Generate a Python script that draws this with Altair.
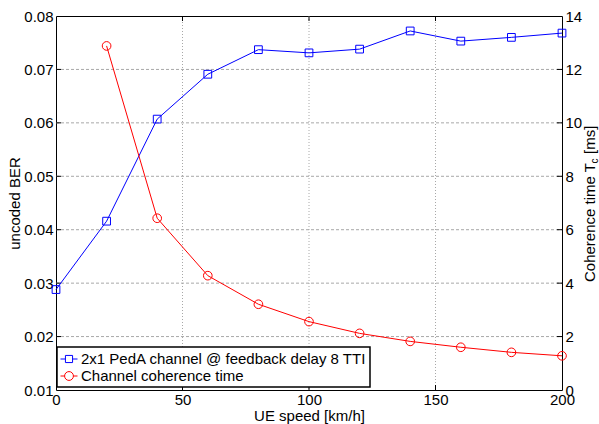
import altair as alt
import pandas as pd

# ---- data ----
speed = [0, 20, 40, 60, 80, 100, 120, 140, 160, 180, 200]
ber = [0.0288, 0.0416, 0.0607, 0.0691, 0.0737, 0.0731, 0.0738, 0.0772, 0.0753, 0.0760, 0.0768]
coh_speed = [20, 40, 60, 80, 100, 120, 140, 160, 180, 200]
coh = [12.88, 6.43, 4.28, 3.21, 2.56, 2.12, 1.82, 1.60, 1.41, 1.28]
series = ["2x1 PedA channel @ feedback delay 8 TTI", "Channel coherence time"]
x_ticks = [0, 50, 100, 150, 200]
ber_ticks = [0.01, 0.02, 0.03, 0.04, 0.05, 0.06, 0.07, 0.08]
coh_ticks = [0, 2, 4, 6, 8, 10, 12, 14]

W, H = 506, 374
FONT = "Liberation Sans"
BLUE = "#0000ff"
RED = "#ff0000"
GRID = "#a8a8a8"

ber_df = pd.DataFrame({"speed": speed, "ber": ber})
coh_df = pd.DataFrame({"speed": coh_speed, "coh": coh})
xin_df = pd.DataFrame({"speed": x_ticks[1:-1]})
berin_df = pd.DataFrame({"ber": ber_ticks[1:-1]})
cohin_df = pd.DataFrame({"coh": coh_ticks[1:-1]})
legend_df = pd.DataFrame({"series": pd.Series([], dtype=str)})

x_scale = alt.Scale(domain=[0, 200], nice=False, zero=False)
ber_scale = alt.Scale(domain=[0.01, 0.08], nice=False, zero=False)
coh_scale = alt.Scale(domain=[0, 14], nice=False, zero=False)

x_axis = alt.Axis(values=x_ticks, title="UE speed [km/h]", format="d",
                  labelFlush=False, labelOverlap=False, labelPadding=2, titlePadding=1)
ber_axis = alt.Axis(values=ber_ticks, title="uncoded BER", format=".2f",
                    labelOverlap=False, labelPadding=3, titlePadding=1)
coh_axis = alt.Axis(values=coh_ticks, title=None, orient="right", format="d",
                    labelOverlap=False, labelPadding=3)

X = alt.X("speed:Q", scale=x_scale, axis=x_axis)
Yb = alt.Y("ber:Q", scale=ber_scale, axis=ber_axis)
Yc = alt.Y("coh:Q", scale=coh_scale, axis=coh_axis)

# grid
grid_v = alt.Chart(xin_df).mark_rule(color=GRID, strokeWidth=1, strokeDash=[1, 2]).encode(
    x=X, y=alt.value(0), y2=alt.value(H))
grid_h = alt.Chart(berin_df).mark_rule(color=GRID, strokeWidth=1, strokeDash=[3, 2]).encode(
    y=Yb, x=alt.value(0), x2=alt.value(W))

# inward ticks
tick_bottom = alt.Chart(xin_df).mark_rule(color="black").encode(
    x=X, y=alt.value(H - 5), y2=alt.value(H))
tick_top = alt.Chart(xin_df).mark_rule(color="black").encode(
    x=X, y=alt.value(0), y2=alt.value(5))
tick_left = alt.Chart(berin_df).mark_rule(color="black").encode(
    y=Yb, x=alt.value(0), x2=alt.value(5))
tick_right = alt.Chart(cohin_df).mark_rule(color="black").encode(
    y=Yc, x=alt.value(W - 5), x2=alt.value(W))

blue_line = alt.Chart(ber_df).mark_line(color=BLUE, strokeWidth=1).encode(x=X, y=Yb)
blue_pts = alt.Chart(ber_df).mark_point(shape="square", color=BLUE, filled=False,
                                        size=60, strokeWidth=1, opacity=1).encode(x=X, y=Yb)

red_line = alt.Chart(coh_df).mark_line(color=RED, strokeWidth=1).encode(x=X, y=Yc)
red_pts = alt.Chart(coh_df).mark_point(shape="circle", color=RED, filled=False,
                                       size=75, strokeWidth=1, opacity=1).encode(x=X, y=Yc)

# right-axis title with subscript
one = alt.Data(values=[{}])
t1 = alt.Chart(one).mark_text(text="Coherence time T", angle=270, align="left",
                              baseline="alphabetic", font=FONT, fontSize=15, color="black").encode(
    x=alt.value(W + 33), y=alt.value(266))
t2 = alt.Chart(one).mark_text(text="c", angle=270, align="left",
                              baseline="alphabetic", font=FONT, fontSize=10, color="black").encode(
    x=alt.value(W + 36), y=alt.value(147.5))
t3 = alt.Chart(one).mark_text(text="[ms]", angle=270, align="left",
                              baseline="alphabetic", font=FONT, fontSize=15, color="black").encode(
    x=alt.value(W + 33), y=alt.value(138))

# legend
SQ = "M-1,0H-0.42M0.42,0H1M-0.42,-0.42H0.42V0.42H-0.42Z"
CI = "M-1,0H-0.52M0.52,0H1M0.52,0A0.52,0.52 0 1,1 -0.52,0A0.52,0.52 0 1,1 0.52,0Z"
leg = alt.Legend(title=None, orient="none", legendX=1, legendY=331, labelLimit=500)
legend_layer = alt.Chart(legend_df).mark_point(filled=False, strokeWidth=1, opacity=1).encode(
    color=alt.Color("series:N", scale=alt.Scale(domain=series, range=[BLUE, RED]), legend=leg),
    shape=alt.Shape("series:N", scale=alt.Scale(domain=series, range=[SQ, CI]), legend=leg),
)

left = alt.layer(grid_v, grid_h, tick_bottom, tick_top, tick_left, blue_line, blue_pts)
right = alt.layer(tick_right, red_line, red_pts, t1, t2, t3, legend_layer)

chart = alt.layer(left, right).resolve_scale(y="independent").properties(
    width=W, height=H,
    autosize=alt.AutoSizeParams(type="none"),
    padding={"left": 56, "top": 16, "right": 37, "bottom": 34},
).configure(font=FONT).configure_view(
    stroke="black", strokeWidth=1
).configure_axis(
    labelFont=FONT, titleFont=FONT, labelFontSize=15, titleFontSize=15,
    titleFontWeight="normal", labelColor="black", titleColor="black",
    domain=False, ticks=False, grid=False,
).configure_legend(
    labelFont=FONT, labelFontSize=15, labelColor="black", labelLimit=500,
    strokeColor="black", strokeWidth=1.5, fillColor="white",
    padding=3, rowPadding=0, labelOffset=3, symbolSize=289,
    symbolStrokeWidth=1, symbolFillColor="transparent",
)

chart.save("out.html", embed_options={"renderer": "svg", "actions": False})
